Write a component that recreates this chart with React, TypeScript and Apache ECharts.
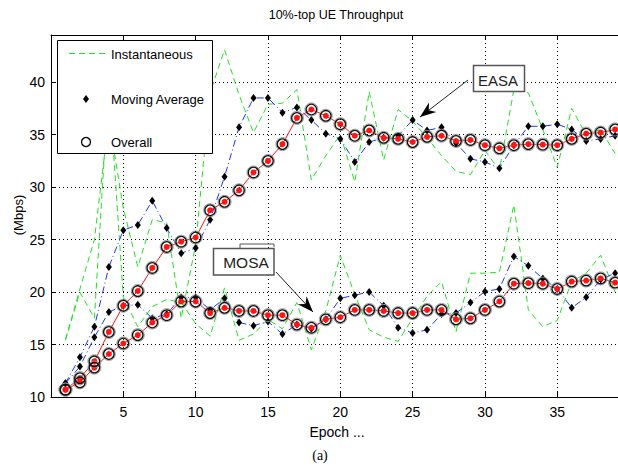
import React, { useEffect, useRef } from "react";
import * as echarts from "echarts";

const EPOCHS = [1, 2, 3, 4, 5, 6, 7, 8, 9, 10, 11, 12, 13, 14, 15, 16, 17, 18, 19, 20, 21, 22, 23, 24, 25, 26, 27, 28, 29, 30, 31, 32, 33, 34, 35, 36, 37, 38, 39];

const EASA_INST = [15.5, 20.3, 25.0, 36.5, 28.0, 22.4, 26.9, 26.6, 17.5, 24.5, 39.0, 43.1, 38.8, 35.2, 37.9, 38.0, 39.3, 30.7, 33.0, 35.0, 30.5, 39.1, 32.6, 37.4, 36.3, 34.7, 33.0, 31.5, 31.2, 33.5, 31.6, 39.3, 39.0, 35.5, 31.9, 37.5, 35.0, 35.5, 33.2];
const EASA_MA = [11.3, 13.8, 16.7, 22.4, 25.9, 26.4, 28.7, 26.1, 23.7, 24.2, 26.9, 31.0, 35.7, 38.5, 38.5, 37.1, 37.6, 36.4, 35.1, 34.6, 32.4, 34.3, 34.7, 34.9, 36.4, 35.4, 35.7, 34.2, 32.7, 32.4, 31.8, 34.0, 35.8, 35.8, 36.0, 35.5, 34.4, 34.6, 34.9];
const EASA_OVERALL = [10.7, 11.8, 13.4, 16.2, 18.7, 20.1, 22.3, 24.3, 24.8, 25.2, 27.8, 28.6, 29.7, 31.4, 32.5, 34.1, 36.6, 37.4, 36.8, 36.0, 34.9, 35.4, 34.7, 34.6, 34.3, 34.8, 34.9, 34.4, 34.5, 34.0, 33.7, 34.0, 34.1, 34.05, 34.0, 34.6, 35.1, 35.2, 35.5];

const MOSA_INST = [15.4, 20.0, 17.5, 40.0, 19.5, 16.7, 18.6, 19.3, 19.0, 17.0, 15.8, 20.4, 15.4, 16.0, 17.4, 16.5, 19.0, 14.5, 18.2, 23.5, 19.8, 16.4, 15.7, 15.3, 17.5, 19.6, 21.0, 16.2, 21.8, 21.8, 21.9, 28.3, 18.3, 16.7, 17.3, 21.0, 21.8, 23.5, 20.0];
const MOSA_MA = [11.3, 12.9, 15.7, 18.1, 18.7, 18.8, 17.5, 17.9, 19.5, 19.5, 18.3, 19.4, 17.1, 16.8, 17.2, 16.0, 16.9, 16.5, 17.4, 19.4, 19.7, 20.0, 18.7, 16.6, 16.1, 16.4, 17.9, 18.0, 19.0, 20.05, 20.3, 23.4, 22.5, 21.3, 20.3, 18.5, 19.5, 21.2, 21.8];
const MOSA_OVERALL = [10.7, 11.4, 12.8, 14.1, 15.1, 15.9, 17.1, 17.8, 19.1, 19.1, 18.0, 18.5, 18.2, 18.2, 17.8, 17.8, 16.9, 16.6, 17.4, 17.6, 18.3, 18.3, 18.2, 18.0, 18.0, 18.3, 18.3, 17.4, 17.5, 18.3, 19.1, 20.8, 20.85, 20.8, 20.3, 21.0, 21.1, 21.3, 20.9];

const Y_TICKS = [10, 15, 20, 25, 30, 35, 40];
const X_TICKS = [5, 10, 15, 20, 25, 30, 35];

const TITLE = "10%-top UE Throughput";
const X_NAME = "Epoch ...";
const Y_NAME = "(Mbps)";
const CAPTION = "(a)";
const LEGEND_LABELS = ["Instantaneous", "Moving Average", "Overall"];

const FONT = '"Liberation Sans", Arial, Helvetica, sans-serif';
const GREEN = "#22e022";
const BLUE = "#1f33ff";
const RED = "#ff1414";

const pairs = (ys: number[]) => ys.map((y, i) => [EPOCHS[i], y]);

function arrowHead(tipX: number, tipY: number, fromX: number, fromY: number) {
  const dx = tipX - fromX;
  const dy = tipY - fromY;
  const len = Math.sqrt(dx * dx + dy * dy);
  const ux = dx / len;
  const uy = dy / len;
  const nx = -uy;
  const ny = ux;
  const bx = tipX - ux * 16;
  const by = tipY - uy * 16;
  const kx = tipX - ux * 11;
  const ky = tipY - uy * 11;
  return [
    [tipX, tipY],
    [bx + nx * 6, by + ny * 6],
    [kx, ky],
    [bx - nx * 6, by - ny * 6],
  ];
}

export default function App() {
  const ref = useRef<HTMLDivElement>(null);

  useEffect(() => {
    if (!ref.current) return;
    const chart = echarts.init(ref.current, null, { renderer: "svg" });

    const xLabelFmt = (v: number) => (X_TICKS.indexOf(v) >= 0 ? String(v) : "");
    const yLabelFmt = (v: number) => (Y_TICKS.indexOf(v) >= 0 ? String(v) : "");

    const dotted = { type: [1, 3] as any, color: "#000", width: 1 };

    const easaArrow = { x1: 468, y1: 80, x2: 420, y2: 117 };
    const mosaArrow = { x1: 276, y1: 272, x2: 313, y2: 312 };

    const ringSeries = (name: string, ys: number[]) => [
      {
        name: name + " halo",
        type: "scatter",
        data: pairs(ys),
        symbol: "circle",
        symbolSize: 13,
        silent: true,
        itemStyle: { color: "rgba(0,0,0,0)", borderColor: "#9a9a9a", borderWidth: 1, opacity: 1 },
        z: 5,
      },
      {
        name: name + " marker",
        type: "scatter",
        data: pairs(ys),
        symbol: "circle",
        symbolSize: 10.5,
        silent: true,
        itemStyle: { color: "rgba(0,0,0,0)", borderColor: "#111", borderWidth: 1.3, opacity: 1 },
        z: 6,
      },
    ];

    const option: any = {
      animation: false,
      backgroundColor: "#fff",
      grid: { left: 51, right: -2, top: 35, bottom: 70, show: false },
      xAxis: [
        {
          type: "value",
          min: 0,
          max: 39.2,
          interval: 5,
          position: "bottom",
          axisLine: { show: true, onZero: false, lineStyle: { color: "#000", width: 1 } },
          axisTick: { show: true, inside: true, length: 5, lineStyle: { color: "#000" } },
          axisLabel: { show: true, color: "#000", fontSize: 14, fontFamily: FONT, margin: 8, formatter: xLabelFmt, showMaxLabel: false, showMinLabel: false },
          splitLine: { show: true, lineStyle: dotted },
        },
        {
          type: "value",
          min: 0,
          max: 39.2,
          interval: 5,
          position: "top",
          axisLine: { show: true, onZero: false, lineStyle: { color: "#000", width: 1 } },
          axisTick: { show: true, inside: true, length: 5, lineStyle: { color: "#000" } },
          axisLabel: { show: false },
          splitLine: { show: false },
        },
      ],
      yAxis: {
        type: "value",
        min: 10,
        max: 44.5,
        interval: 5,
        axisLine: { show: true, onZero: false, lineStyle: { color: "#000", width: 1 } },
        axisTick: { show: true, inside: true, length: 5, lineStyle: { color: "#000" } },
        axisLabel: { show: true, color: "#000", fontSize: 14, fontFamily: FONT, margin: 6, formatter: yLabelFmt, showMaxLabel: false },
        splitLine: { show: true, lineStyle: dotted },
      },
      series: [
        {
          name: "EASA Instantaneous",
          type: "line",
          data: pairs(EASA_INST),
          symbol: "none",
          silent: true,
          lineStyle: { color: GREEN, width: 1, type: [6, 4] },
          z: 2,
        },
        {
          name: "MOSA Instantaneous",
          type: "line",
          data: pairs(MOSA_INST),
          symbol: "none",
          silent: true,
          lineStyle: { color: GREEN, width: 1, type: [6, 4] },
          z: 2,
        },
        {
          name: "EASA Moving Average",
          type: "line",
          data: pairs(EASA_MA),
          symbol: "diamond",
          symbolSize: [6, 8],
          silent: true,
          itemStyle: { color: "#000", opacity: 1 },
          lineStyle: { color: BLUE, width: 1, type: [7, 3, 1, 3] },
          z: 3,
        },
        {
          name: "MOSA Moving Average",
          type: "line",
          data: pairs(MOSA_MA),
          symbol: "diamond",
          symbolSize: [6, 8],
          silent: true,
          itemStyle: { color: "#000", opacity: 1 },
          lineStyle: { color: BLUE, width: 1, type: [7, 3, 1, 3] },
          z: 3,
        },
        {
          name: "EASA Overall",
          type: "line",
          data: pairs(EASA_OVERALL),
          symbol: "circle",
          symbolSize: 6,
          silent: true,
          itemStyle: { color: RED, opacity: 1 },
          lineStyle: { color: RED, width: 1 },
          z: 4,
        },
        {
          name: "MOSA Overall",
          type: "line",
          data: pairs(MOSA_OVERALL),
          symbol: "circle",
          symbolSize: 6,
          silent: true,
          itemStyle: { color: RED, opacity: 1 },
          lineStyle: { color: RED, width: 1 },
          z: 4,
        },
        ...ringSeries("EASA Overall", EASA_OVERALL),
        ...ringSeries("MOSA Overall", MOSA_OVERALL),
      ],
      graphic: [
        {
          type: "text",
          z: 100,
          x: 336,
          y: 15,
          style: { text: TITLE, fill: "#000", font: `12.5px ${FONT}`, align: "center", verticalAlign: "middle", textAlign: "center", textVerticalAlign: "middle" },
        },
        {
          type: "text",
          z: 100,
          x: 337,
          y: 432,
          style: { text: X_NAME, fill: "#000", font: `14px ${FONT}`, align: "center", verticalAlign: "middle", textAlign: "center", textVerticalAlign: "middle" },
        },
        {
          type: "text",
          z: 100,
          x: 18,
          y: 215,
          rotation: Math.PI / 2,
          style: { text: Y_NAME, fill: "#000", font: `13px ${FONT}`, align: "center", verticalAlign: "middle", textAlign: "center", textVerticalAlign: "middle" },
        },
        {
          type: "text",
          z: 100,
          x: 320,
          y: 455,
          style: { text: CAPTION, fill: "#000", font: `14px "Liberation Serif", "Times New Roman", serif`, align: "center", verticalAlign: "middle", textAlign: "center", textVerticalAlign: "middle" },
        },
        {
          type: "rect",
          z: 100,
          shape: { x: 57.5, y: 40.5, width: 155, height: 113 },
          style: { fill: "#fff", stroke: "#000", lineWidth: 1 },
        },
        {
          type: "line",
          z: 101,
          shape: { x1: 69, y1: 53.5, x2: 108, y2: 53.5 },
          style: { stroke: GREEN, lineWidth: 1, lineDash: [6, 4] },
        },
        {
          type: "text",
          z: 101,
          x: 111,
          y: 54,
          style: { text: LEGEND_LABELS[0], fill: "#000", font: `13px ${FONT}`, align: "left", verticalAlign: "middle", textAlign: "left", textVerticalAlign: "middle" },
        },
        {
          type: "polygon",
          z: 101,
          shape: { points: [[86, 95], [89, 99], [86, 103], [83, 99]] },
          style: { fill: "#000" },
        },
        {
          type: "text",
          z: 101,
          x: 111,
          y: 99,
          style: { text: LEGEND_LABELS[1], fill: "#000", font: `13px ${FONT}`, align: "left", verticalAlign: "middle", textAlign: "left", textVerticalAlign: "middle" },
        },
        {
          type: "circle",
          z: 101,
          shape: { cx: 86, cy: 142, r: 4.5 },
          style: { fill: "none", stroke: "#000", lineWidth: 1.3 },
        },
        {
          type: "text",
          z: 101,
          x: 111,
          y: 142,
          style: { text: LEGEND_LABELS[2], fill: "#000", font: `13px ${FONT}`, align: "left", verticalAlign: "middle", textAlign: "left", textVerticalAlign: "middle" },
        },
        {
          type: "rect",
          z: 100,
          shape: { x: 473.5, y: 65.5, width: 51, height: 26 },
          style: { fill: "#fff", stroke: "#555", lineWidth: 1.5 },
        },
        {
          type: "text",
          z: 101,
          x: 498,
          y: 80,
          style: { text: "EASA", fill: "#222", font: `15px ${FONT}`, align: "center", verticalAlign: "middle", textAlign: "center", textVerticalAlign: "middle" },
        },
        {
          type: "line",
          z: 100,
          shape: easaArrow,
          style: { stroke: "#222", lineWidth: 1 },
        },
        {
          type: "polygon",
          z: 100,
          shape: { points: arrowHead(easaArrow.x2, easaArrow.y2, easaArrow.x1, easaArrow.y1) },
          style: { fill: "#000" },
        },
        {
          type: "rect",
          z: 100,
          shape: { x: 213.5, y: 248.5, width: 60.5, height: 26.5 },
          style: { fill: "#fff", stroke: "#555", lineWidth: 1.5 },
        },
        {
          type: "polyline",
          z: 100,
          shape: { points: [[240, 248], [240, 244], [274, 244], [274, 247]] },
          style: { stroke: "#555", lineWidth: 1, fill: "none" },
        },
        {
          type: "text",
          z: 101,
          x: 246,
          y: 262,
          style: { text: "MOSA", fill: "#222", font: `15.5px ${FONT}`, align: "center", verticalAlign: "middle", textAlign: "center", textVerticalAlign: "middle" },
        },
        {
          type: "line",
          z: 100,
          shape: mosaArrow,
          style: { stroke: "#222", lineWidth: 1 },
        },
        {
          type: "polygon",
          z: 100,
          shape: { points: arrowHead(mosaArrow.x2, mosaArrow.y2, mosaArrow.x1, mosaArrow.y1) },
          style: { fill: "#000" },
        },
      ],
    };

    chart.setOption(option);
    return () => {
      chart.dispose();
    };
  }, []);

  return (
    <div
      ref={ref}
      style={{ position: "fixed", left: 0, top: 0, width: 618, height: 467, background: "#fff" }}
    />
  );
}
